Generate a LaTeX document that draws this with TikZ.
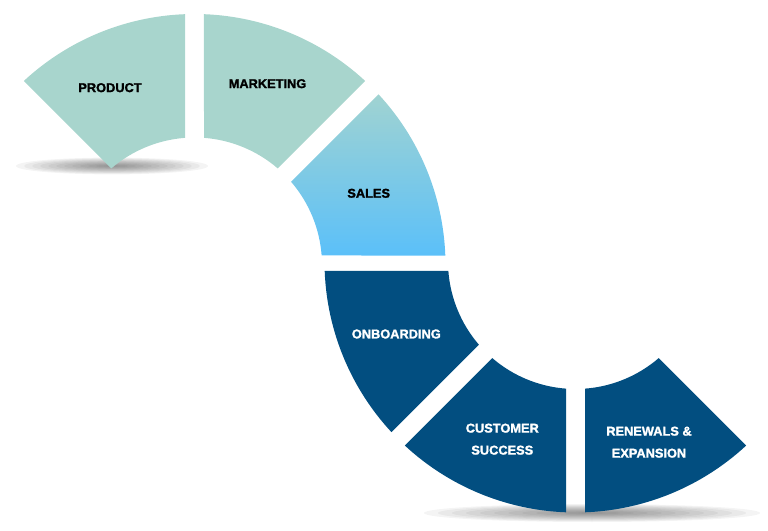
\documentclass[tikz,border=0pt]{standalone}
\usepackage{fontspec}
\setmainfont{Liberation Sans}[BoldFeatures={FakeBold=1.6}]
\usetikzlibrary{calc}

\definecolor{mint}{HTML}{A8D5CD}
\definecolor{sky}{HTML}{5BC0F9}
\definecolor{navy}{HTML}{024E80}

% one piece of a ring: center, from angle, to angle, look
\newcommand{\ringpart}[4]{%
  \pgfmathsetmacro{\ringdi}{asin(9.5/127.5)}%
  \pgfmathsetmacro{\ringdo}{asin(9.5/251)}%
  \path[#4] ($(#1)+(#2+\ringdo:251pt)$)
    arc[start angle=#2+\ringdo, end angle=#3-\ringdo, radius=251pt]
    -- ($(#1)+(#3-\ringdi:127.5pt)$)
    arc[start angle=#3-\ringdi, end angle=#2+\ringdi, radius=127.5pt] -- cycle;}

\begin{document}
\begin{tikzpicture}[x=1pt, y=1pt,
    lbl/.style={font=\fontsize{12.8}{22}\selectfont\bfseries, align=center},
    darklbl/.style={lbl, text=white}]
    \useasboundingbox (0,0) rectangle (768,530);

    % ring centers
    \coordinate (top) at (194.5,265);
    \coordinate (bot) at (575.5,268.5);

    % soft shadows
    \foreach \k in {1,...,12} {
      \fill[black, opacity=.045] (112,364) ellipse [x radius=8*\k, y radius=.7*\k];
      \fill[black, opacity=.045] (592,17) ellipse [x radius=14*\k, y radius=.75*\k];
    }

    % upper ring
    \foreach \lo/\hi in {90/135, 45/90} {\ringpart{top}{\lo}{\hi}{fill=mint}}
    \ringpart{top}{0}{45}{top color=mint!90!sky, bottom color=sky}

    % lower ring
    \foreach \lo/\hi in {180/225, 225/270, 270/315} {\ringpart{bot}{\lo}{\hi}{fill=navy}}

    % labels
    \node[lbl] (product) at (110,442.3) {PRODUCT};
    \node[lbl] (marketing) at (267.5,446.3) {MARKETING};
    \node[lbl] (sales) at (368.7,336.7) {SALES};
    \node[darklbl] (onboarding) at (396.3,196) {ONBOARDING};
    \node[darklbl] (success) at (502.3,90.8) {CUSTOMER\\SUCCESS};
    \node[darklbl] (renewals) at (649,87.8) {RENEWALS \&\\EXPANSION};
\end{tikzpicture}
\end{document}
